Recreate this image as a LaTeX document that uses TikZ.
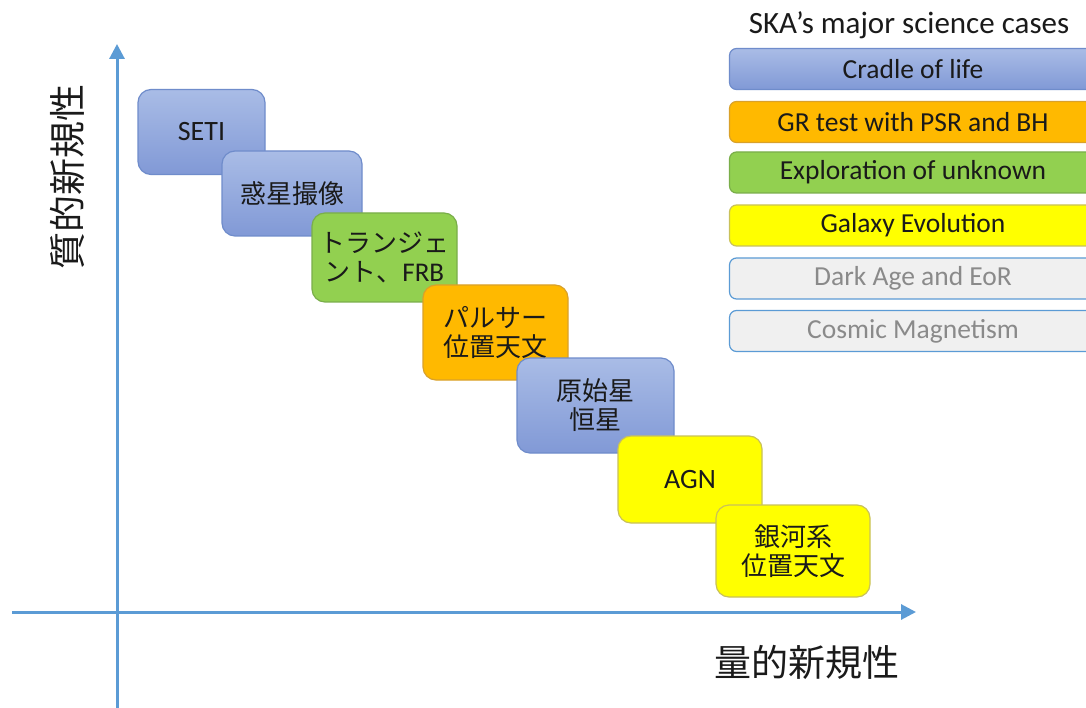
\documentclass[tikz,border=0pt]{standalone}
\usepackage{fontspec}
\setmainfont{Carlito}
\newfontfamily\cjk{Noto Sans CJK JP}
\usetikzlibrary{arrows.meta}
\definecolor{axisblue}{HTML}{5B9BD5}
\definecolor{bluetop}{HTML}{A9BCE6}
\definecolor{bluebot}{HTML}{8199D6}
\definecolor{blueedge}{HTML}{6F8CCB}
\definecolor{orangefill}{HTML}{FFB900}
\definecolor{orangeedge}{HTML}{D9A12A}
\definecolor{greenfill}{HTML}{92D050}
\definecolor{greenedge}{HTML}{7AAE4A}
\definecolor{yellowfill}{HTML}{FFFF00}
\definecolor{yellowedge}{HTML}{C9C15A}
\definecolor{greyfill}{HTML}{F0F0F0}
\definecolor{greytext}{HTML}{8A8A8A}
\definecolor{textdark}{HTML}{1A1A1A}
\tikzset{
  axis/.style={draw=axisblue, line width=3pt, -{Triangle[length=15pt,width=15pt]}},
  cbox/.style={rectangle, rounded corners=13pt, line width=1.2pt, align=center,
    text=textdark, font=\fontsize{28}{29}\selectfont, inner sep=0pt},
  bluebox/.style={cbox, draw=blueedge, top color=bluetop, bottom color=bluebot},
  orangebox/.style={cbox, draw=orangeedge, fill=orangefill},
  greenbox/.style={cbox, draw=greenedge, fill=greenfill},
  yellowbox/.style={cbox, draw=yellowedge, fill=yellowfill},
  legbox/.style={rectangle, rounded corners=7pt, line width=1.2pt, minimum width=367pt,
    minimum height=41pt, inner sep=0pt, text=textdark, font=\fontsize{27.5}{29}\selectfont},
  axislabel/.style={font=\cjk\fontsize{37}{40}\selectfont, text=textdark, inner sep=0pt},
  jp/.style={font=\cjk\fontsize{26}{29}\selectfont}
}
\begin{document}
\begin{tikzpicture}[x=1pt,y=-1pt]
\useasboundingbox (0,0) rectangle (1086,708);
\fill[white] (0,0) rectangle (1086,708);
\begin{scope}
\clip (0,0) rectangle (1086,708);
% axes
\coordinate (ybot) at (117,708);
\coordinate (ytop) at (117,44);
\coordinate (xleft) at (12,612);
\coordinate (xright) at (916,612);
\draw[axis] (ybot) -- (ytop);
\draw[axis] (xleft) -- (xright);
\node[axislabel, rotate=90] (ylab) at (67,177) {質的新規性};
\node[axislabel] (xlab) at (807,662) {量的新規性};
% category boxes
\node[bluebox, minimum width=127pt, minimum height=85pt] (seti) at (201.5,132) {SETI};
\node[bluebox, jp, minimum width=140pt, minimum height=85pt] (wakusei) at (292,193.5) {惑星撮像};
\node[greenbox, jp, minimum width=145pt, minimum height=89pt] (trans) at (384.5,257.5) {トランジェ\\ント、{\fontspec{Carlito}\fontsize{27}{29}\selectfont FRB}};
\node[orangebox, jp, minimum width=145pt, minimum height=95pt] (pulsar) at (495.5,332.5) {パルサー\\位置天文};
\node[bluebox, jp, minimum width=157pt, minimum height=95pt] (proto) at (595.5,405.5) {原始星\\恒星};
\node[yellowbox, minimum width=144pt, minimum height=87pt] (agn) at (690,479.5) {AGN};
\node[yellowbox, jp, minimum width=154pt, minimum height=92pt] (galaxy) at (793,551) {銀河系\\位置天文};
% legend
\node[font=\fontsize{31}{32}\selectfont, text=textdark, inner sep=0pt] (title) at (909,25) {SKA’s major science cases};
\node[legbox, draw=blueedge, top color=bluetop, bottom color=bluebot] (l1) at (913,69) {Cradle of life};
\node[legbox, draw=orangeedge, fill=orangefill] (l2) at (913,122) {GR test with PSR and BH};
\node[legbox, draw=greenedge, fill=greenfill] (l3) at (913,172.5) {Exploration of unknown};
\node[legbox, draw=yellowedge, fill=yellowfill] (l4) at (913,225.5) {Galaxy Evolution};
\node[legbox, draw=axisblue, fill=greyfill, text=greytext] (l5) at (913,278.5) {Dark Age and EoR};
\node[legbox, draw=axisblue, fill=greyfill, text=greytext] (l6) at (913,331) {Cosmic Magnetism};
\end{scope}
\end{tikzpicture}
\end{document}
